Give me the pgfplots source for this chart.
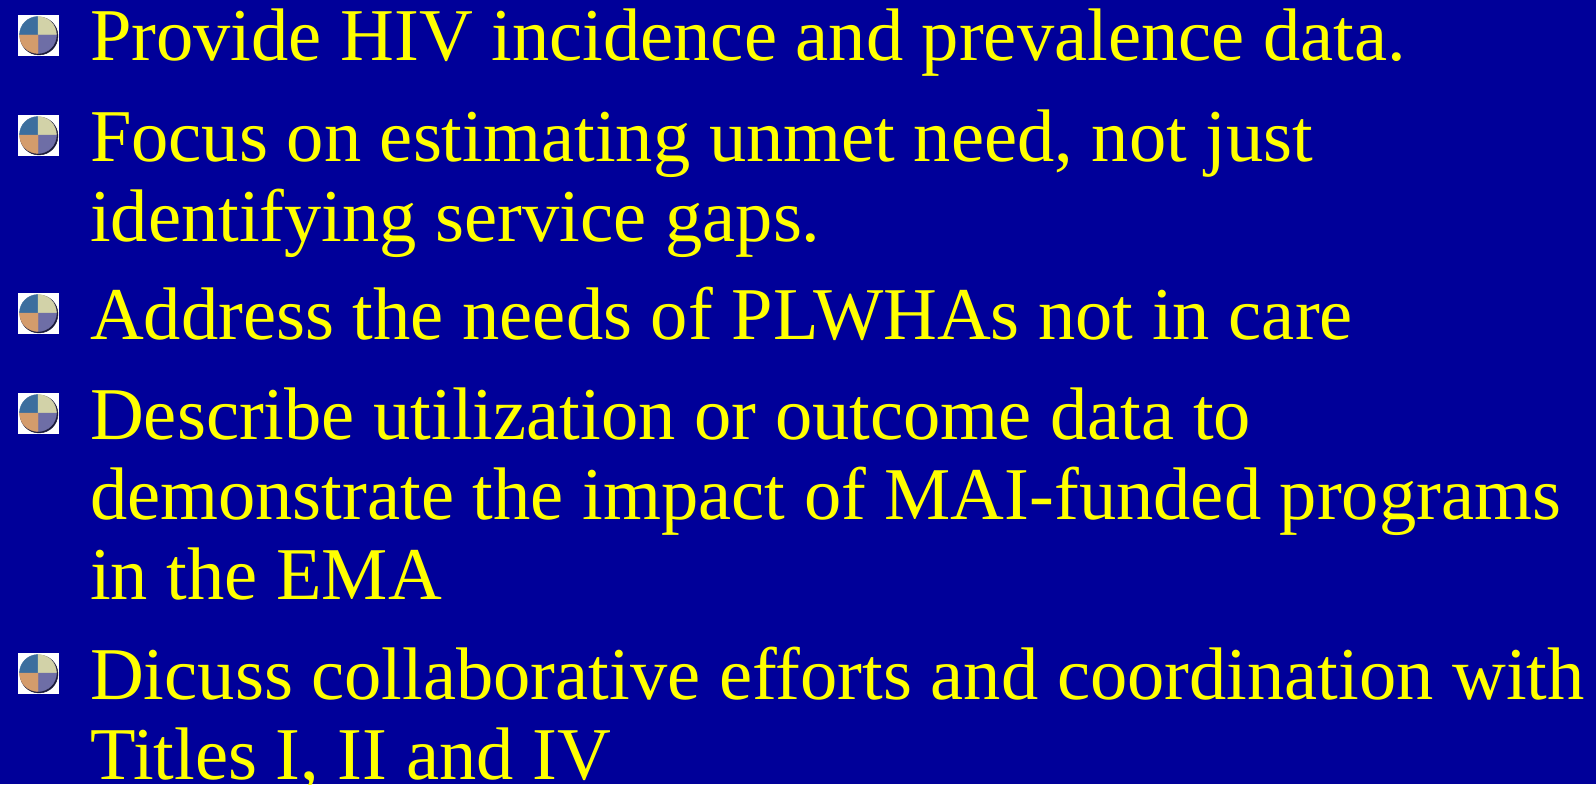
\documentclass[border=0pt]{standalone}
\usepackage{fontspec}
\setmainfont{Liberation Serif}
\usepackage{pgfplots}
\pgfplotsset{compat=1.18}
\definecolor{bg}{HTML}{000099}
\definecolor{txt}{HTML}{FFFF00}
\definecolor{qtl}{HTML}{3C6E9E}
\definecolor{qtr}{HTML}{D2D2A8}
\definecolor{qbl}{HTML}{D49C6C}
\definecolor{qbr}{HTML}{6E6EA6}
\definecolor{shad}{HTML}{1A1A3A}
\pgfdeclareplotmark{quadbullet}{%
  \fill[white] (-20bp,-20bp) rectangle (20bp,20bp);
  \fill[shad] (1bp,-1bp) circle (19bp);
  \fill[qtl] (0,0) -- (-18.5bp,0) arc (180:90:18.5bp) -- cycle;
  \fill[qtr] (0,0) -- (0,18.5bp) arc (90:0:18.5bp) -- cycle;
  \fill[qbr] (0,0) -- (18.5bp,0) arc (0:-90:18.5bp) -- cycle;
  \fill[qbl] (0,0) -- (0,-18.5bp) arc (-90:-180:18.5bp) -- cycle;
}
\begin{document}
\begin{tikzpicture}
\begin{axis}[
  scale only axis, width=1596bp, height=784bp,
  xmin=0, xmax=1596, ymin=0, ymax=784, y dir=reverse,
  hide axis, clip=false,
]
\fill[bg] (axis cs:0,0) rectangle (axis cs:1596,784);
\addplot[only marks, mark=quadbullet] coordinates {(38,35) (38,135) (38,313) (38,413) (38,673)};
\begin{scope}[every node/.style={anchor=base west, inner sep=0pt, text=txt, font=\fontsize{74.5bp}{80bp}\selectfont}]
\node at (axis cs:90,61) {Provide HIV incidence and prevalence data.};
\node at (axis cs:90,161) {Focus on estimating unmet need, not just};
\node at (axis cs:90,241) {identifying service gaps.};
\node at (axis cs:90,339) {Address the needs of PLWHAs not in care};
\node at (axis cs:90,439) {Describe utilization or outcome data to};
\node at (axis cs:90,519) {demonstrate the impact of MAI-funded programs};
\node at (axis cs:90,599) {in the EMA};
\node at (axis cs:90,699) {Dicuss collaborative efforts and coordination with};
\node at (axis cs:90,779) {Titles I, II and IV};
\end{scope}
\end{axis}
\pgfresetboundingbox
\useasboundingbox (current axis.south west) rectangle (current axis.north east);
\end{tikzpicture}
\end{document}
